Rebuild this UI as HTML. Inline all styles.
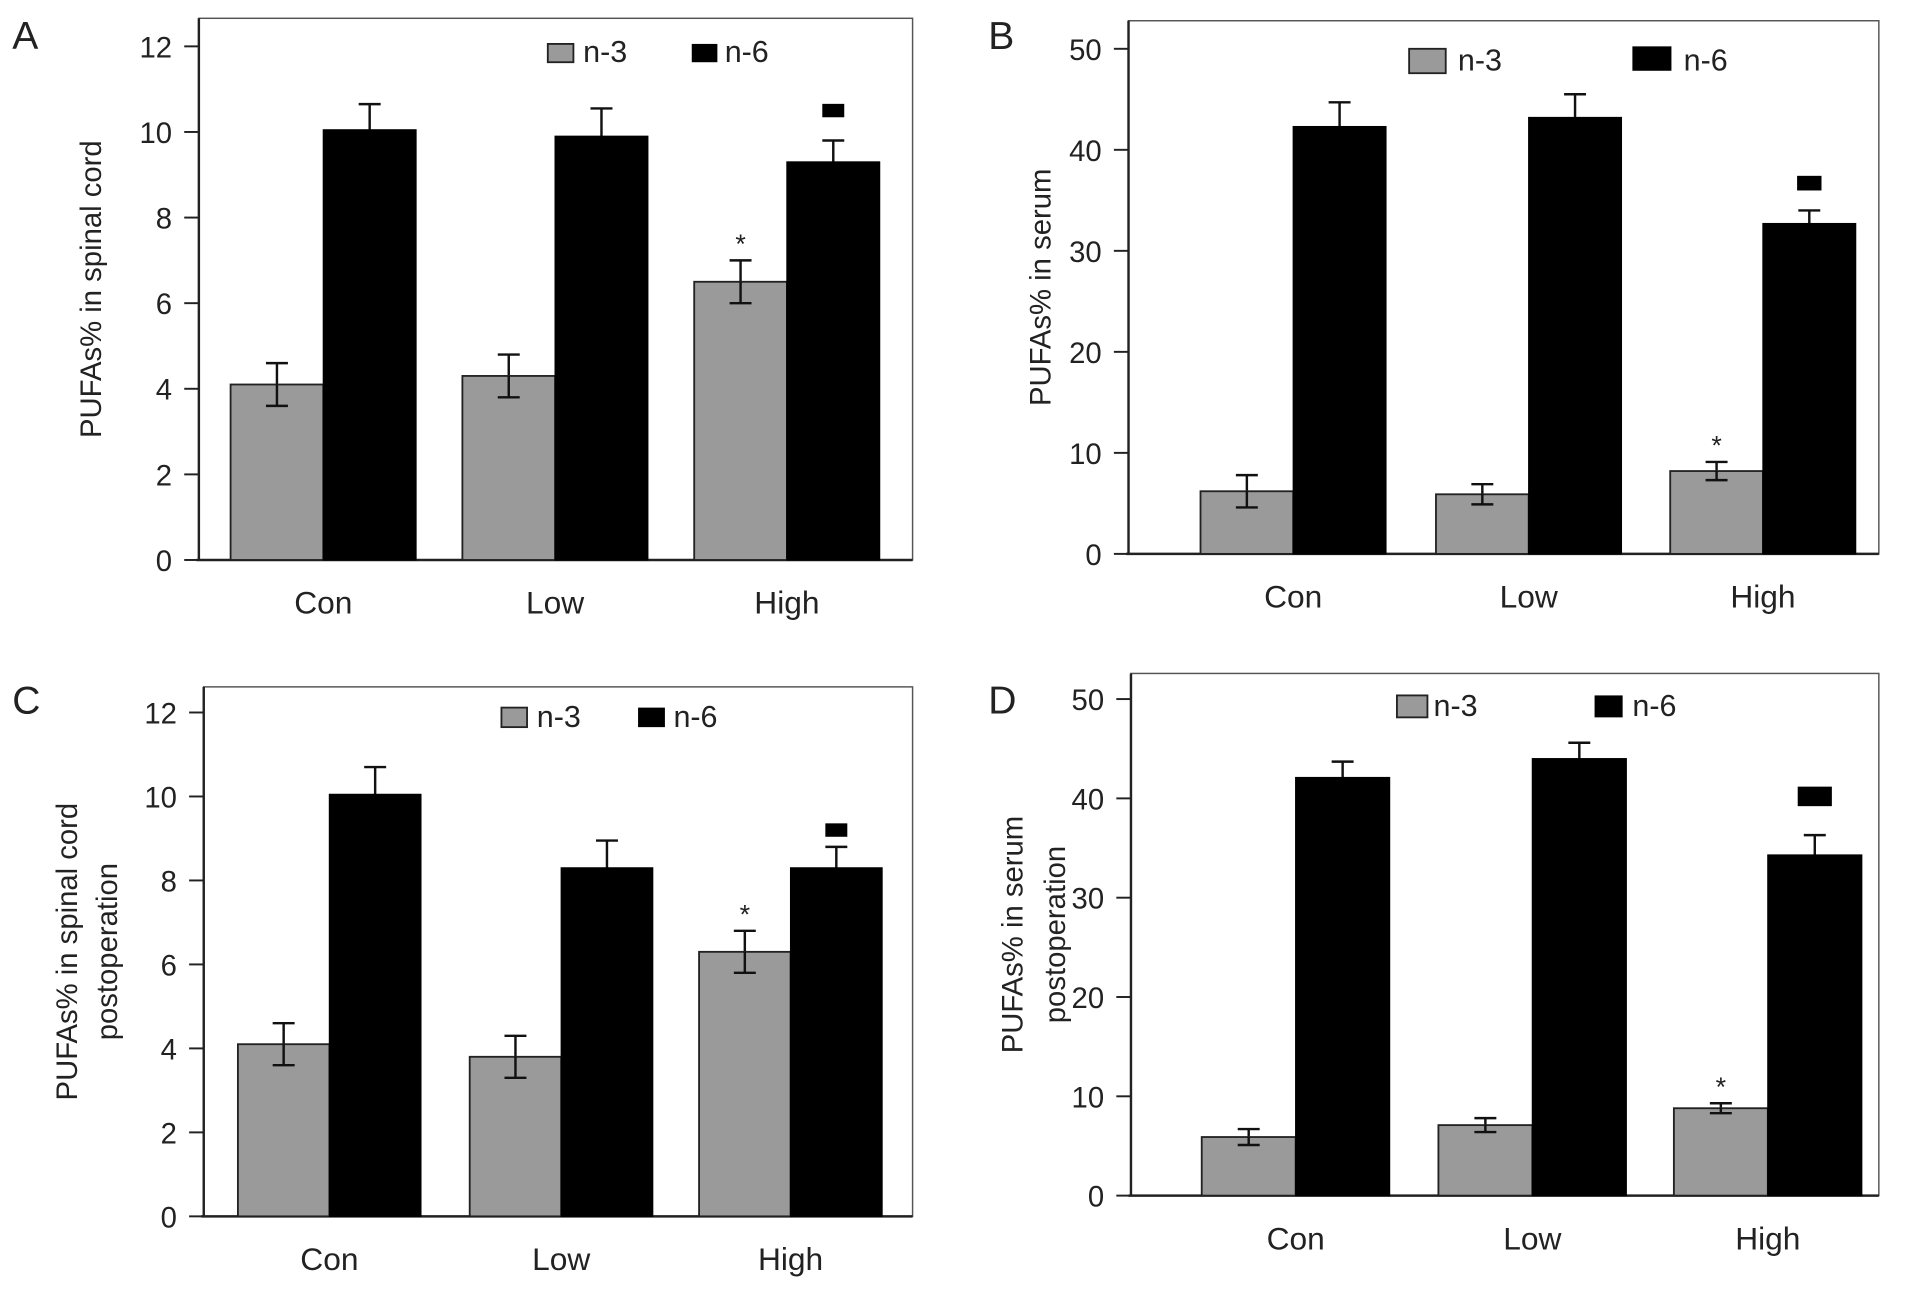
<!DOCTYPE html>
<html><head><meta charset="utf-8"><style>
html,body{margin:0;padding:0;background:#fff}
svg{display:block}
text{font-family:"Liberation Sans",Arial,sans-serif;fill:#222}
</style></head><body>
<svg id="fig" width="1913" height="1292" viewBox="0 0 1568 1059" preserveAspectRatio="none" xmlns="http://www.w3.org/2000/svg"></svg>
<script>
const categories = ["Con","Low","High"];
const seriesNames = ["n-3","n-6"];
const aN3 = [4.1,4.3,6.5], aN3Err = [0.5,0.5,0.5];
const aN6 = [10.05,9.9,9.3], aN6Err = [0.6,0.65,0.5];
const bN3 = [6.2,5.9,8.2], bN3Err = [1.6,1.0,0.9];
const bN6 = [42.3,43.2,32.7], bN6Err = [2.4,2.3,1.3];
const cN3 = [4.1,3.8,6.3], cN3Err = [0.5,0.5,0.5];
const cN6 = [10.05,8.3,8.3], cN6Err = [0.65,0.65,0.5];
const dN3 = [5.9,7.1,8.8], dN3Err = [0.8,0.7,0.5];
const dN6 = [42.1,44.0,34.3], dN6Err = [1.6,1.6,2.0];
const ticksSmall = [0,2,4,6,8,10,12];
const ticksLarge = [0,10,20,30,40,50];

const svg = document.getElementById('fig');
const NS = "http://www.w3.org/2000/svg";
function mk(tag, attrs, parent){const e=document.createElementNS(NS,tag);for(const k in attrs)e.setAttribute(k,attrs[k]);(parent||svg).appendChild(e);return e;}

const panels = [
 {id:"a",letter:"A",lx:10,ly:40,ax:163,right:748,top:15,y0:459,yMax:12,yTop:38,ticks:ticksSmall,
  n3:aN3,n3e:aN3Err,n6:aN6,n6e:aN6Err,centers:[265,455,645],bw:76,
  title:["PUFAs% in spinal cord"],tx:[75],
  leg:{g:[449,36,21,15],gt:478,b:[567,36,21,15],bt:594,ty:51},sq:{w:18,h:11,v:10.5}},
 {id:"b",letter:"B",lx:810,ly:40,ax:925,right:1540,top:17,y0:454,yMax:50,yTop:40,ticks:ticksLarge,
  n3:bN3,n3e:bN3Err,n6:bN6,n6e:bN6Err,centers:[1060,1253,1445],bw:76,
  title:["PUFAs% in serum"],tx:[853],
  leg:{g:[1155,40,30,20],gt:1195,b:[1338,38,32,20],bt:1380,ty:58},sq:{w:20,h:12,v:36.7}},
 {id:"c",letter:"C",lx:10,ly:585,ax:167,right:748,top:563,y0:997,yMax:12,yTop:584,ticks:ticksSmall,
  n3:cN3,n3e:cN3Err,n6:cN6,n6e:cN6Err,centers:[270,460,648],bw:75,
  title:["PUFAs% in spinal cord","postoperation"],tx:[55,88],
  leg:{g:[411,580,21,16],gt:440,b:[523,580,22,16],bt:552,ty:596},sq:{w:18,h:11,v:9.2}},
 {id:"d",letter:"D",lx:810,ly:585,ax:927,right:1540,top:552,y0:980,yMax:50,yTop:573,ticks:ticksLarge,
  n3:dN3,n3e:dN3Err,n6:dN6,n6e:dN6Err,centers:[1062,1256,1449],bw:77,
  title:["PUFAs% in serum","postoperation"],tx:[830,865],
  leg:{g:[1145,570,25,18],gt:1175,b:[1307,570,23,18],bt:1338,ty:587},sq:{w:28,h:16,v:40.2}}
];

panels.forEach(p=>{
  const g = mk('g',{});
  
  
  const y = v => p.y0 - v/p.yMax*(p.y0-p.yTop);
  const lt = mk('text',{x:p.lx,y:p.ly,'font-size':32},g); lt.textContent=p.letter;
  
  
  const fr = mk('rect',{x:p.ax,y:p.top,width:p.right-p.ax,height:p.y0-p.top,fill:'none',stroke:'#555','stroke-width':1.2},g);
  
  
  mk('line',{x1:p.ax,y1:p.top,x2:p.ax,y2:p.y0,stroke:'#222','stroke-width':2},g);
  mk('line',{x1:p.ax-2,y1:p.y0,x2:p.right,y2:p.y0,stroke:'#222','stroke-width':2},g);
  p.ticks.forEach(t=>{
    mk('line',{x1:p.ax-12,y1:y(t),x2:p.ax,y2:y(t),stroke:'#222','stroke-width':1.6},g);
    const tt = mk('text',{x:p.ax-22,y:y(t)+9,'font-size':24,'text-anchor':'end'},g); tt.textContent=t;
    
    
  });
  categories.forEach((c,i)=>{
    const cx=p.centers[i];
    const ct = mk('text',{x:cx,y:p.y0+44,'font-size':26,'text-anchor':'middle'},g); ct.textContent=c;
    
    
    [[p.n3[i],p.n3e[i],cx-p.bw/2,true],[p.n6[i],p.n6e[i],cx+p.bw/2,false]].forEach(([v,e,ex,both])=>{
      mk('line',{x1:ex,y1:y(v+e),x2:ex,y2:both?y(v-e):y(v),stroke:'#111','stroke-width':2},g);
      mk('line',{x1:ex-9,y1:y(v+e),x2:ex+9,y2:y(v+e),stroke:'#111','stroke-width':2},g);
      if(both) mk('line',{x1:ex-9,y1:y(v-e),x2:ex+9,y2:y(v-e),stroke:'#111','stroke-width':2},g);
    });
    const b3 = mk('rect',{x:cx-p.bw,y:y(p.n3[i]),width:p.bw,height:p.y0-y(p.n3[i]),fill:'#9a9a9a',stroke:'#222','stroke-width':1.5},g);
    
    
    const b6 = mk('rect',{x:cx,y:y(p.n6[i]),width:p.bw,height:p.y0-y(p.n6[i]),fill:'#000',stroke:'#000','stroke-width':1},g);
    
    
    mk('line',{x1:cx-p.bw/2,y1:y(p.n3[i]),x2:cx-p.bw/2,y2:y(p.n3[i]-p.n3e[i]),stroke:'#111','stroke-width':2},g);
    mk('line',{x1:cx-p.bw/2-9,y1:y(p.n3[i]-p.n3e[i]),x2:cx-p.bw/2+9,y2:y(p.n3[i]-p.n3e[i]),stroke:'#111','stroke-width':2},g);
    if(i===2){
      const st = mk('text',{x:cx-p.bw/2,y:y(p.n3[i]+p.n3e[i])-6,'font-size':22,'text-anchor':'middle'},g); st.textContent='*';
      
      
      const sq = mk('rect',{x:cx+p.bw/2-p.sq.w/2,y:y(p.sq.v)-p.sq.h/2,width:p.sq.w,height:p.sq.h,fill:'#000'},g);
      
      
    }
  });
  p.title.forEach((t,k)=>{
    const cy=(p.top+p.y0)/2;
    const tt = mk('text',{x:p.tx[k],y:cy,'font-size':24,'text-anchor':'middle',transform:`rotate(-90 ${p.tx[k]} ${cy})`,dy:8},g); tt.textContent=t;
    
    
  });
  const L=p.leg;
  const lg = mk('rect',{x:L.g[0],y:L.g[1],width:L.g[2],height:L.g[3],fill:'#9a9a9a',stroke:'#222','stroke-width':1.5},g);
  
  
  const l1 = mk('text',{x:L.gt,y:L.ty,'font-size':25},g); l1.textContent=seriesNames[0];
  
  
  const lb = mk('rect',{x:L.b[0],y:L.b[1],width:L.b[2],height:L.b[3],fill:'#000'},g);
  
  
  const l2 = mk('text',{x:L.bt,y:L.ty,'font-size':25},g); l2.textContent=seriesNames[1];
  
  
});
</script>
</body></html>
